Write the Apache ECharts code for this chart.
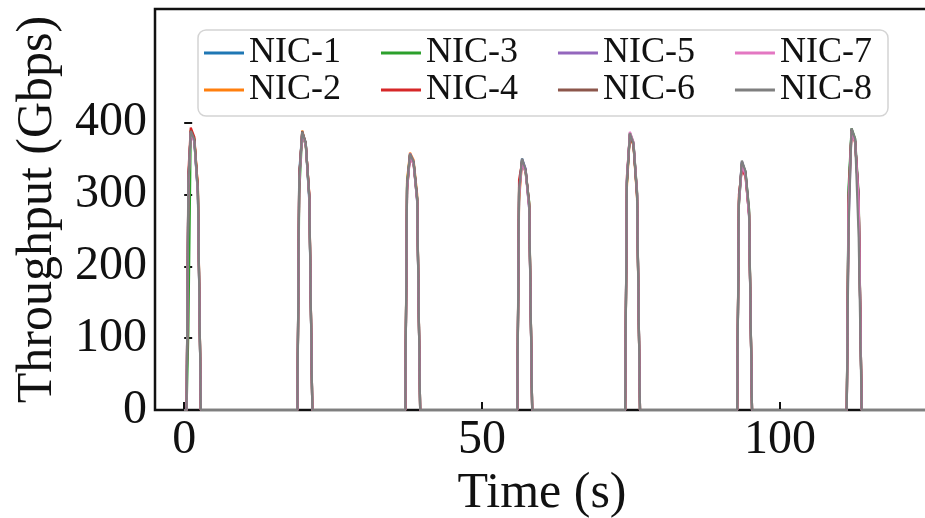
<!DOCTYPE html>
<html>
<head>
<meta charset="utf-8">
<script src="https://cdn.jsdelivr.net/npm/echarts@6/dist/echarts.min.js"></script>
<style>html,body{margin:0;padding:0;background:#fff;}#main{width:925px;height:518px;}</style>
</head>
<body>
<div id="main"></div>
<script>
// Shared time samples (s)
const time = [0,
  0.4, 0.7, 1.1, 1.7, 2.3, 2.8,
  19.0, 19.3, 19.8, 20.4, 21.0, 21.5,
  37.1, 37.4, 37.9, 38.5, 39.1, 39.6,
  55.9, 56.2, 56.7, 57.3, 57.9, 58.4,
  74.0, 74.3, 74.8, 75.4, 76.0, 76.5,
  92.8, 93.1, 93.6, 94.2, 94.8, 95.3,
  111.2, 111.5, 112.0, 112.6, 113.2, 113.7,
  125];

const nic1 = [0, 0,320,388,375,300,0, 0,330,386,372,290,0, 0,310,355,345,290,0, 0,300,350,335,280,0, 0,320,384,370,300,0, 0,290,345,330,270,0, 0,300,390,375,290,0, 0];
const nic2 = [0, 0,310,390,378,310,0, 0,320,389,370,300,0, 0,320,358,348,300,0, 0,290,346,332,285,0, 0,310,382,368,295,0, 0,295,342,328,275,0, 0,280,388,372,295,0, 0];
const nic3 = [0, 0,110,386,376,305,0, 0,300,384,368,295,0, 0,315,356,344,295,0, 0,310,348,330,290,0, 0,315,386,372,305,0, 0,285,344,332,280,0, 0,310,392,378,300,0, 0];
const nic4 = [0, 0,330,393,380,310,0, 0,325,385,370,300,0, 0,305,354,342,292,0, 0,320,345,334,288,0, 0,325,383,370,302,0, 0,300,335,325,272,0, 0,290,389,374,292,0, 0];
const nic5 = [0, 0,315,387,374,302,0, 0,318,387,371,298,0, 0,312,357,346,296,0, 0,305,349,336,284,0, 0,318,385,371,300,0, 0,292,346,331,276,0, 0,260,391,376,296,0, 0];
const nic6 = [0, 0,318,389,377,306,0, 0,322,388,372,296,0, 0,308,355,344,294,0, 0,302,347,333,283,0, 0,316,384,369,298,0, 0,288,343,330,274,0, 0,295,390,374,293,0, 0];
const nic7 = [0, 0,312,386,373,300,0, 0,315,385,369,294,0, 0,306,353,342,290,0, 0,298,344,331,280,0, 0,322,387,373,303,0, 0,286,341,327,270,0, 0,285,388,372,290,0, 0];
const nic8 = [0, 0,316,388,376,304,0, 0,320,387,371,297,0, 0,310,356,345,293,0, 0,304,350,334,286,0, 0,319,385,371,301,0, 0,291,347,332,278,0, 0,250,392,377,240,0, 0];

const names = ['NIC-1','NIC-2','NIC-3','NIC-4','NIC-5','NIC-6','NIC-7','NIC-8'];
const seriesValues = [nic1, nic2, nic3, nic4, nic5, nic6, nic7, nic8];
const colors = ['#1f77b4','#ff7f0e','#2ca02c','#d62728','#9467bd','#8c564b','#e377c2','#7f7f7f'];
const legendRow1 = ['NIC-1','NIC-3','NIC-5','NIC-7'];
const legendRow2 = ['NIC-2','NIC-4','NIC-6','NIC-8'];
const xTicks = [0, 50, 100];
const yTicks = [0, 100, 200, 300, 400];

const FONT = 'Liberation Serif';
const chart = echarts.init(document.getElementById('main'), null, {renderer: 'canvas'});

const series = names.map((n, i) => ({
  name: n,
  type: 'line',
  data: time.map((t, j) => [t, seriesValues[i][j]]),
  showSymbol: false,
  symbol: 'none',
  lineStyle: {width: 2.2, color: colors[i]},
  itemStyle: {color: colors[i]},
  emphasis: {disabled: true},
  animation: false
}));

const legendCommon = {
  orient: 'horizontal',
  left: 204,
  padding: 0,
  itemWidth: 40,
  itemHeight: 3,
  itemGap: 40,
  icon: 'rect',
  textStyle: {fontFamily: FONT, fontSize: 36, color: '#111', lineHeight: 36},
  selectedMode: false
};

chart.setOption({
  animation: false,
  color: colors,
  grid: {left: 155, right: -4, top: 9, bottom: 108, show: true, borderColor: '#111', borderWidth: 2.5,
         containLabel: false, outerBoundsMode: 'none'},
  xAxis: {
    type: 'value', min: -4.9, max: 125,
    splitLine: {show: false},
    axisLine: {show: false},
    axisTick: {show: true, inside: true, length: 8, lineStyle: {color: '#111', width: 2}, customValues: xTicks},
    axisLabel: {fontFamily: FONT, fontSize: 48, color: '#111', margin: 6, customValues: xTicks},
    name: 'Time (s)', nameLocation: 'middle', nameGap: 52,
    nameTextStyle: {fontFamily: FONT, fontSize: 50, color: '#111', verticalAlign: 'top'}
  },
  yAxis: {
    type: 'value', min: 0, max: 558,
    splitLine: {show: false},
    axisLine: {show: false},
    axisTick: {show: true, inside: true, length: 8, lineStyle: {color: '#111', width: 2}, customValues: yTicks},
    axisLabel: {fontFamily: FONT, fontSize: 48, color: '#111', margin: 8, customValues: yTicks},
    name: 'Throughput (Gbps)', nameLocation: 'middle', nameGap: 92, nameRotate: 90,
    nameTextStyle: {fontFamily: FONT, fontSize: 50, color: '#111'}
  },
  legend: [
    Object.assign({}, legendCommon, {top: 35, data: legendRow1}),
    Object.assign({}, legendCommon, {top: 72, data: legendRow2})
  ],
  graphic: [{
    type: 'rect', z: 3,
    shape: {x: 198, y: 30, width: 690, height: 86, r: 8},
    style: {fill: 'rgba(255,255,255,0.8)', stroke: '#d4d4d4', lineWidth: 1.5}
  }],
  series: series
});
</script>
</body>
</html>
